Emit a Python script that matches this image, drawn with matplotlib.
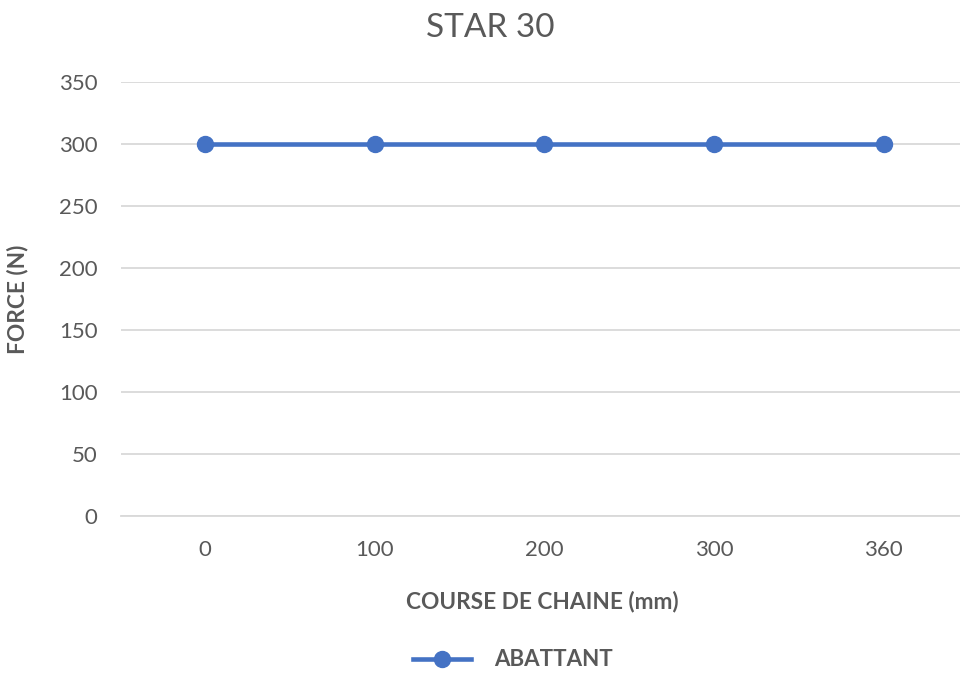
import matplotlib
matplotlib.use("Agg")
import matplotlib.pyplot as plt
from matplotlib.lines import Line2D

# data
categories = ["0", "100", "200", "300", "360"]
force = [300, 300, 300, 300, 300]
series_name = "ABATTANT"

BLUE = "#4472C4"
TXT = "#595959"
GRID = "#D9D9D9"

plt.rcParams["font.family"] = ["Lato", "DejaVu Sans"]

fig = plt.figure(figsize=(9.6, 6.73), dpi=100)
ax = fig.add_axes([121 / 960, 1 - 516 / 673, 1 - 121 / 960, (516 - 82) / 673])

x = list(range(len(categories)))
ax.plot(x, force, color=BLUE, lw=3.3, marker="o", ms=11.5, zorder=3, clip_on=False)

ax.set_xlim(-0.496, 4.45)
ax.set_ylim(0, 350)
ax.set_yticks(range(0, 351, 50))
ax.set_xticks(x)
ax.set_xticklabels(categories)
ax.grid(axis="y", color=GRID, lw=1.3)
ax.set_axisbelow(True)
for s in ["top", "right", "left"]:
    ax.spines[s].set_visible(False)
ax.spines["bottom"].set_color(GRID)
ax.spines["bottom"].set_linewidth(1.3)
ax.tick_params(length=0, labelsize=16, labelcolor=TXT)
ax.tick_params(axis="x", pad=17)
ax.tick_params(axis="y", pad=17)

fig.text(490 / 960, 1 - 28 / 673, "STAR 30", ha="center", va="center",
         fontsize=24, color=TXT)
fig.text(542 / 960, 1 - 602 / 673, "COURSE DE CHAINE (mm)", ha="center",
         va="center", fontsize=16.3, fontweight="bold", color=TXT)
fig.text(18 / 960, 1 - 299 / 673, "FORCE (N)", ha="center", va="center",
         rotation=90, fontsize=16.3, fontweight="bold", color=TXT)

handle = Line2D([], [], color=BLUE, lw=3.3, marker="o", ms=11.5)
fig.legend([handle], [series_name], loc="center", bbox_to_anchor=(513 / 960, 1 - 660 / 673),
           frameon=False, handlelength=2.6, handletextpad=1.03,
           prop={"size": 16, "weight": "bold"}, labelcolor=TXT)

fig.savefig("out.png", dpi=100)
